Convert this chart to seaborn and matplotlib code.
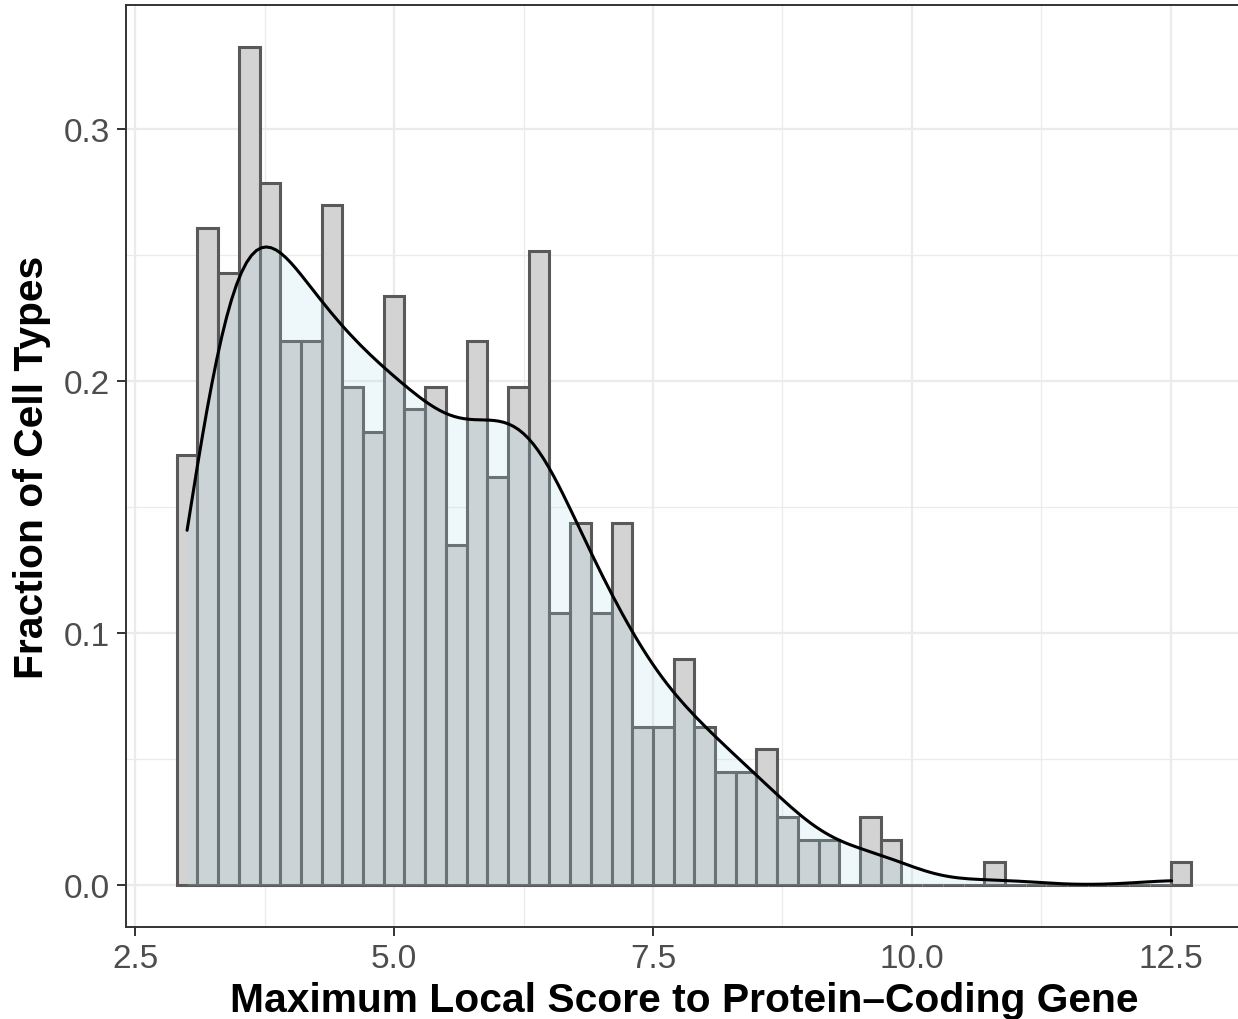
import numpy as np
import pandas as pd
import matplotlib
matplotlib.use("Agg")
import matplotlib.pyplot as plt
import seaborn as sns

# Histogram bins: width 0.2 starting at 2.9
bin_start = 2.9
bin_width = 0.2
# Number of cell types falling in each bin
cell_type_counts = [19, 29, 27, 37, 31, 24, 24, 30, 22, 20, 26, 21, 22,
                    15, 24, 18, 22, 28, 12, 16, 12, 16, 7, 7, 10,
                    7, 5, 5, 6, 3, 2, 2, 0, 3, 2,
                    0, 0, 0, 0, 1, 0, 0, 0, 0, 0, 0, 0, 0, 1]
# Observed range of the scores (density curve is drawn over this span)
score_min, score_max = 3.0, 12.51

x_ticks = [2.5, 5.0, 7.5, 10.0, 12.5]
x_tick_labels = ["2.5", "5.0", "7.5", "10.0", "12.5"]
y_ticks = [0.0, 0.1, 0.2, 0.3]
y_tick_labels = ["0.0", "0.1", "0.2", "0.3"]

counts = np.asarray(cell_type_counts)
edges = bin_start + bin_width * np.arange(len(counts) + 1)
centers = (edges[:-1] + edges[1:]) / 2
scores = np.repeat(centers, counts)
df = pd.DataFrame({"score": scores})

# Silverman's rule of thumb (bw.nrd0) as a factor of the standard deviation
sd = scores.std(ddof=1)
q75, q25 = np.percentile(scores, [75, 25])
bw = 0.9 * min(sd, (q75 - q25) / 1.34) * len(scores) ** (-0.2)
bw_factor = bw / sd

sns.set_theme(style="white")
plt.rcParams["font.family"] = ["Liberation Sans", "DejaVu Sans"]

fig = plt.figure(figsize=(12.38, 10.20), dpi=100)
ax = fig.add_axes([126 / 1238, 92 / 1020, 1116 / 1238, 922 / 1020])

sns.histplot(data=df, x="score", bins=edges, stat="density",
             color="#D3D3D3", edgecolor="#595959", linewidth=2.2,
             alpha=1, ax=ax)
sns.kdeplot(data=df, x="score", bw_method=bw_factor, cut=0,
            clip=(score_min, score_max), fill=True, color="#ADD8E6",
            alpha=0.2, linewidth=0, ax=ax)
sns.kdeplot(data=df, x="score", bw_method=bw_factor, cut=0,
            clip=(score_min, score_max), color="black", linewidth=2.2, ax=ax)

# ggplot-style 5% expansion of the limits
xr = edges[-1] - edges[0]
ax.set_xlim(edges[0] - 0.05 * xr, edges[-1] + 0.05 * xr)
ymax = counts.max() / (counts.sum() * bin_width)
ax.set_ylim(-0.05 * ymax, 1.05 * ymax)

ax.set_xticks(x_ticks)
ax.set_xticklabels(x_tick_labels)
ax.set_xticks([3.75, 6.25, 8.75, 11.25], minor=True)
ax.set_yticks(y_ticks)
ax.set_yticklabels(y_tick_labels)
ax.set_yticks([0.05, 0.15, 0.25], minor=True)

ax.tick_params(which="major", length=6.5, width=1.4, color="#333333",
               labelcolor="#4D4D4D", labelsize=24, pad=5,
               bottom=True, left=True)
ax.tick_params(which="minor", length=0)

ax.set_axisbelow(True)
ax.grid(True, which="major", color="#EBEBEB", linewidth=1.6)
ax.grid(True, which="minor", color="#EBEBEB", linewidth=0.9)

for sp in ax.spines.values():
    sp.set_visible(True)
    sp.set_color("#333333")
    sp.set_linewidth(1.4)

ax.set_xlabel("Maximum Local Score to Protein–Coding Gene", fontsize=29.3,
              fontweight="bold", color="black", labelpad=5)
ax.set_ylabel("Fraction of Cell Types", fontsize=29.3, fontweight="bold",
              color="black", labelpad=9)

fig.savefig("out.png", dpi=100)
